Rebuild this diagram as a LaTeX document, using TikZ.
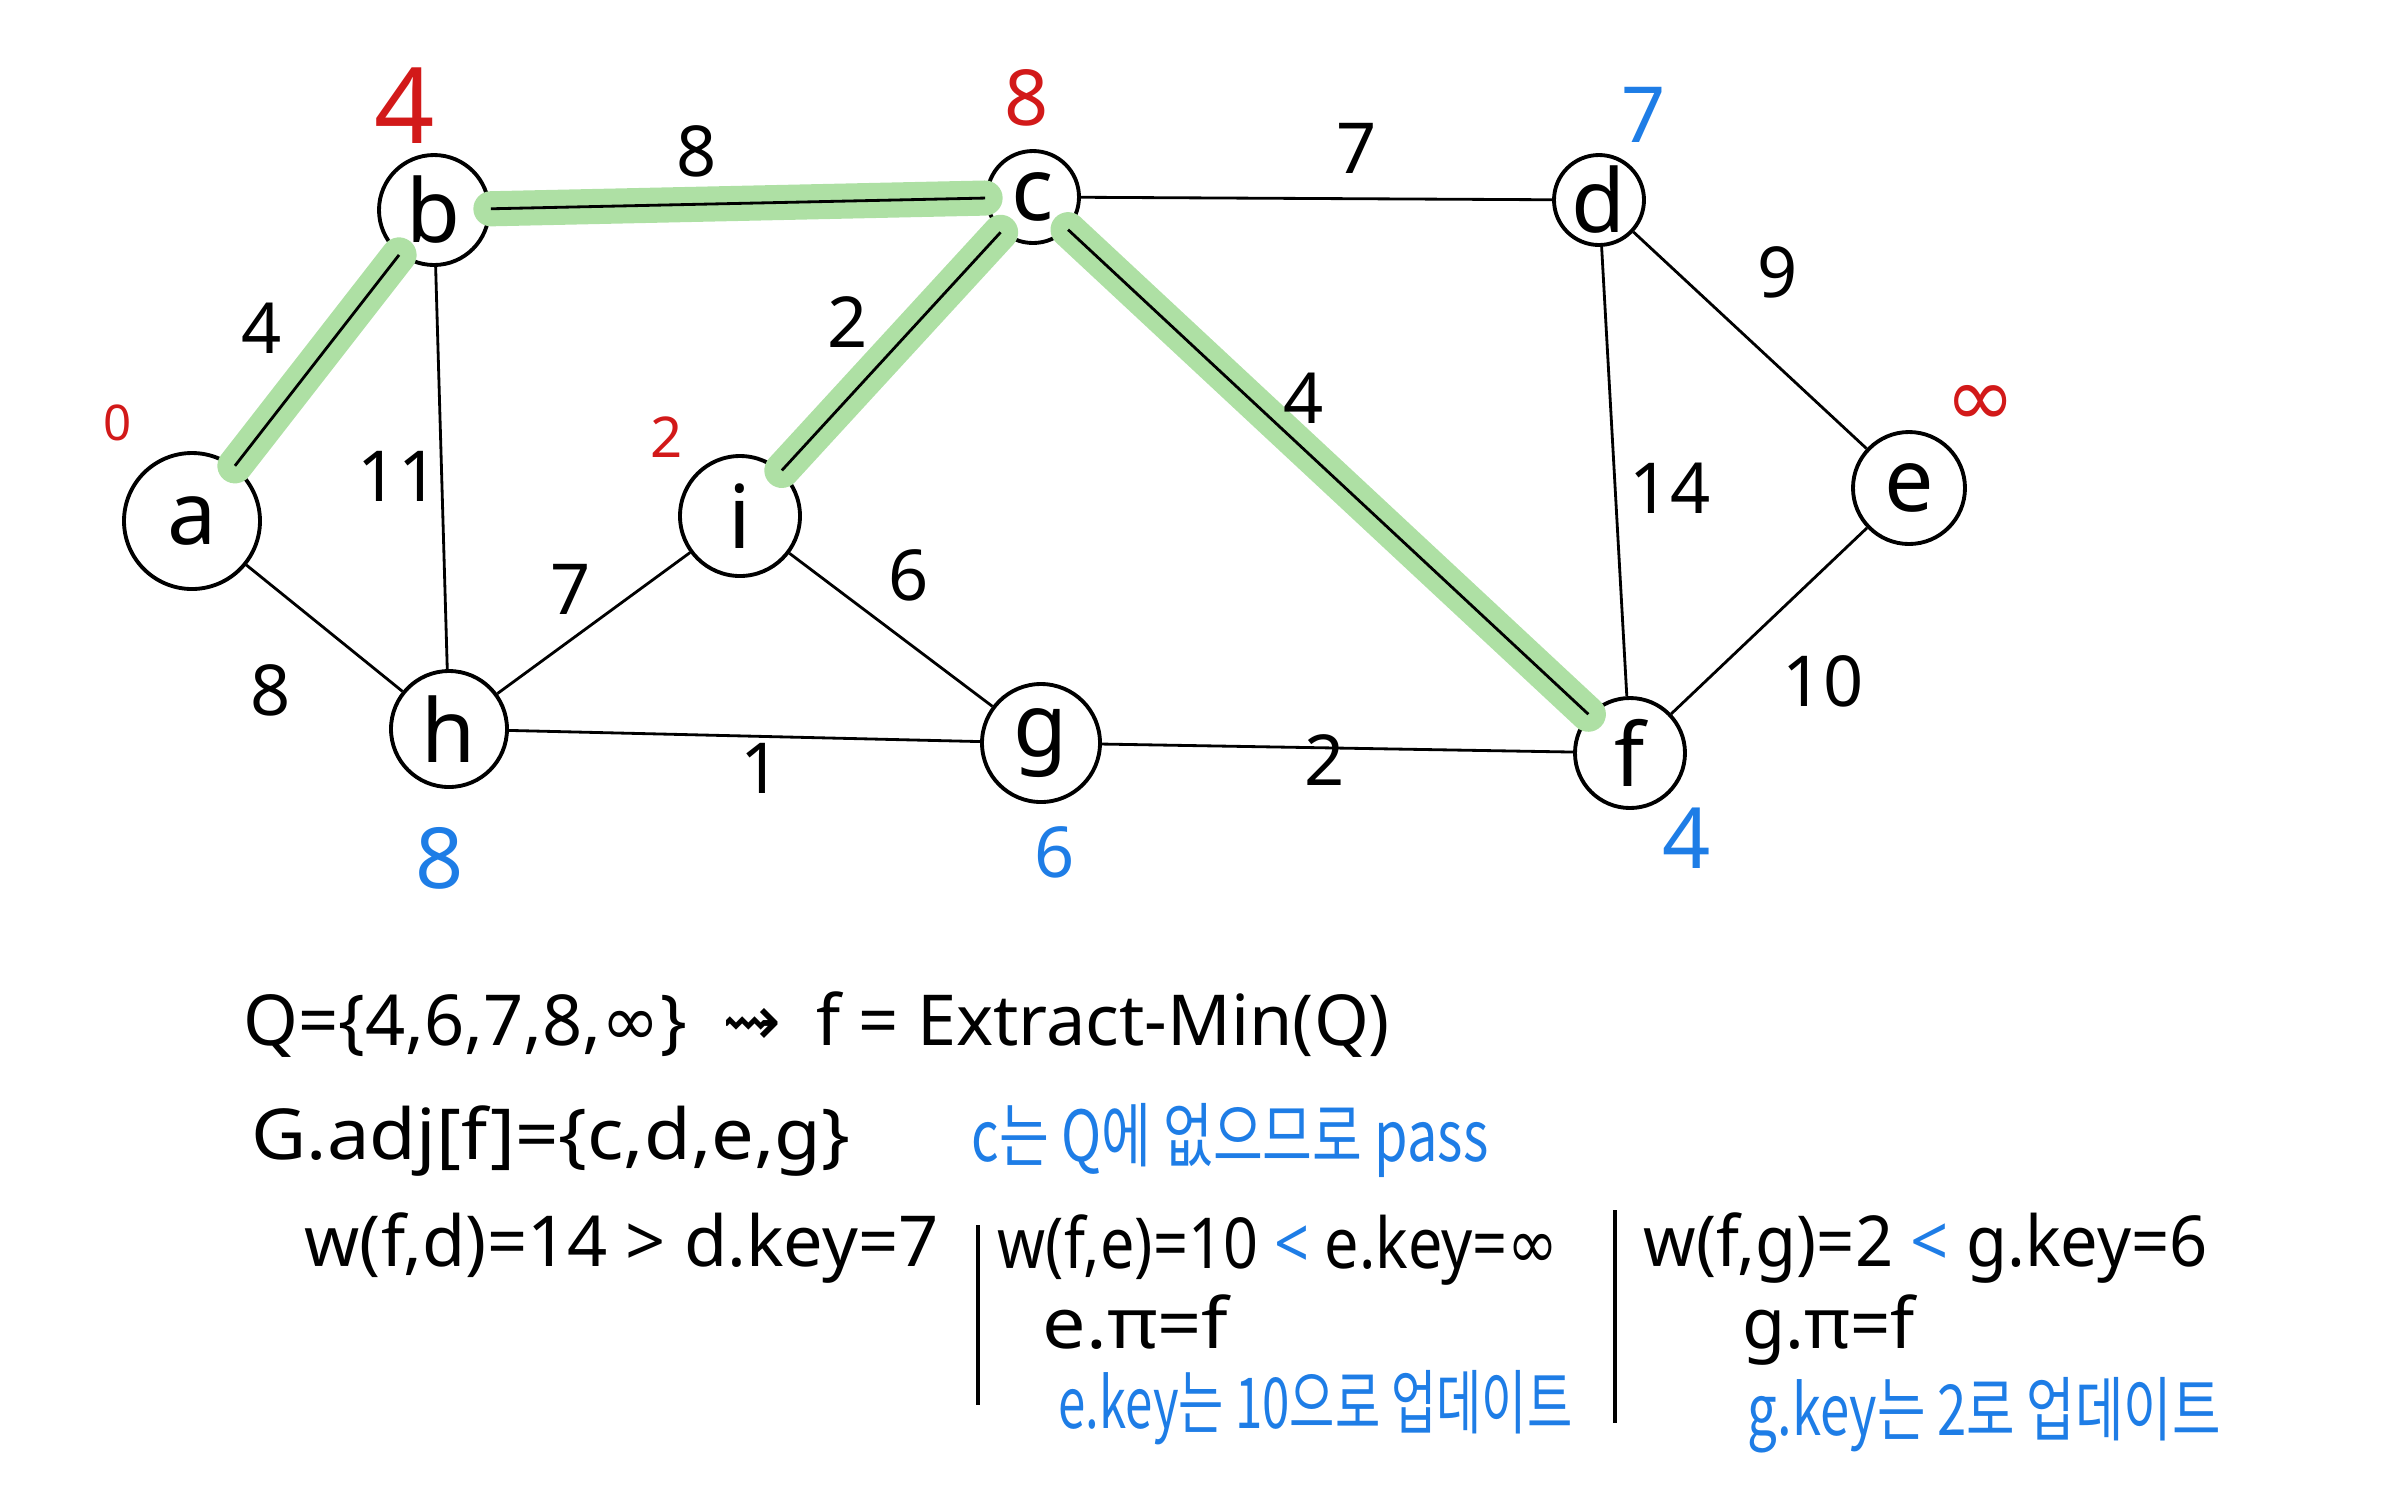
\documentclass[tikz,border=0pt]{standalone}
\usepackage{fontspec}
\setmainfont{Noto Sans}
\newfontfamily\kr{Noto Sans CJK KR}
\newfontfamily\dv{DejaVu Sans}
\definecolor{hlgreen}{RGB}{174,224,164}
\definecolor{pblue}{RGB}{30,125,230}
\definecolor{pred}{RGB}{210,25,25}
\begin{document}
\begin{tikzpicture}[x=1cm,y=1cm,
  vtx/.style={circle, draw, line width=1.1pt, inner sep=0pt, minimum size=#1, font=\fontsize{25}{27}\selectfont},
  edge/.style={line width=0.8pt},
  hl/.style={draw=hlgreen, line width=10pt, line cap=round},
  wt/.style={font=\fontsize{20}{22}\selectfont, inner sep=0pt},
  keyr/.style={text=pred, inner sep=0pt, font=\fontsize{#1}{#1}\selectfont},
  keyb/.style={text=pblue, inner sep=0pt, font=\fontsize{#1}{#1}\selectfont},
  txt/.style={anchor=west, inner sep=0pt, font=\fontsize{20}{22}\selectfont},
  bar/.style={line width=0.9pt}
]
\useasboundingbox (0,0) rectangle (23.86,-14.91);

% vertices
\node[vtx=1.36cm] (a) at (1.92,-5.21) {a};
\node[vtx=1.10cm] (b) at (4.34,-2.10) {b};
\node[vtx=0.92cm] (c) at (10.33,-1.97) {c};
\node[vtx=0.90cm] (d) at (15.99,-2.00) {d};
\node[vtx=1.12cm] (e) at (19.09,-4.88) {e};
\node[vtx=1.10cm] (f) at (16.30,-7.53) {f};
\node[vtx=1.18cm] (g) at (10.41,-7.43) {g};
\node[vtx=1.16cm] (h) at (4.49,-7.29) {h};
\node[vtx=1.20cm] (i) at (7.40,-5.16) {i};

% highlighted MST edges
\draw[hl] (a) -- (b);
\draw[hl] (b) -- (c);
\draw[hl] (i) -- (c);
\draw[hl] (c) -- (f);

% edges
\draw[edge] (a) -- (b);
\draw[edge] (a) -- (h);
\draw[edge] (b) -- (c);
\draw[edge] (b) -- (h);
\draw[edge] (c) -- (d);
\draw[edge] (c) -- (i);
\draw[edge] (c) -- (f);
\draw[edge] (d) -- (e);
\draw[edge] (d) -- (f);
\draw[edge] (e) -- (f);
\draw[edge] (f) -- (g);
\draw[edge] (g) -- (h);
\draw[edge] (g) -- (i);
\draw[edge] (h) -- (i);

% edge weights
\node[wt] (wab) at (2.62,-3.28) {4};
\node[wt] (wbc) at (6.97,-1.51) {8};
\node[wt] (wbh) at (3.98,-4.76) {11};
\node[wt] (wah) at (2.71,-6.90) {8};
\node[wt] (wic) at (8.48,-3.22) {2};
\node[wt] (whi) at (5.71,-5.89) {7};
\node[wt] (wig) at (9.09,-5.75) {6};
\node[wt] (whg) at (7.61,-7.68) {1};
\node[wt] (wcd) at (13.57,-1.48) {7};
\node[wt] (wcf) at (13.04,-3.98) {4};
\node[wt] (wde) at (17.78,-2.72) {9};
\node[wt] (wdf) at (16.70,-4.88) {14};
\node[wt] (wef) at (18.23,-6.81) {10};
\node[wt] (wgf) at (13.25,-7.60) {2};

% keys
\node[keyr=14] (ka) at (1.18,-4.23) {0};
\node[keyr=30] (kb) at (4.05,-1.06) {4};
\node[keyr=22] (kc) at (10.27,-0.98) {8};
\node[keyr=16] (ki) at (6.67,-4.37) {2};
\node[keyr=22, font=\dv\fontsize{24}{24}\selectfont] (ke) at (19.81,-4.06) {∞};
\node[keyb=24] (kh) at (4.40,-8.58) {8};
\node[keyb=20] (kg) at (10.55,-8.52) {6};
\node[keyb=22] (kd) at (16.44,-1.15) {7};
\node[keyb=24] (kf) at (16.87,-8.38) {4};

% notes
\node[txt] (l1) at (2.43,-10.25) {Q=\{4,6,7,8,{\dv ∞}\}\enspace{\dv ⇝}\enspace f = Extract-Min(Q)};
\node[txt] (l2) at (2.51,-11.41) {\scalebox{1.08}[1]{G.adj[f]=\{c,d,e,g\}}};
\node[txt, text=pblue] (l2b) at (9.71,-11.40) {\scalebox{0.77}[1]{\kr c는 Q에 없으므로 pass}};
\node[txt] (l3) at (3.04,-12.48) {w(f,d)=14 \textgreater{} d.key=7};
\coordinate (b1t) at (9.78,-12.25);
\coordinate (b1b) at (9.78,-14.05);
\draw[bar] (b1t) -- (b1b);
\node[txt] (l4) at (9.97,-12.50) {\scalebox{0.87}[1]{w(f,e)=10 \textcolor{pblue}{\textless} e.key={\dv ∞}}};
\node[txt] (l5) at (10.42,-13.22) {\scalebox{1.1}[1]{e.π=f}};
\node[txt, text=pblue] (l6) at (10.58,-14.08) {\scalebox{0.70}[1]{\kr e.key는 10으로 업데이트}};
\coordinate (b2t) at (16.15,-12.10);
\coordinate (b2b) at (16.15,-14.23);
\draw[bar] (b2t) -- (b2b);
\node[txt] (l7) at (16.43,-12.48) {\scalebox{0.95}[1]{w(f,g)=2 \textcolor{pblue}{\textless} g.key=6}};
\node[txt] (l8) at (17.42,-13.30) {g.π=f};
\node[txt, text=pblue] (l9) at (17.47,-14.15) {\scalebox{0.75}[1]{\kr g.key는 2로 업데이트}};
\end{tikzpicture}
\end{document}
